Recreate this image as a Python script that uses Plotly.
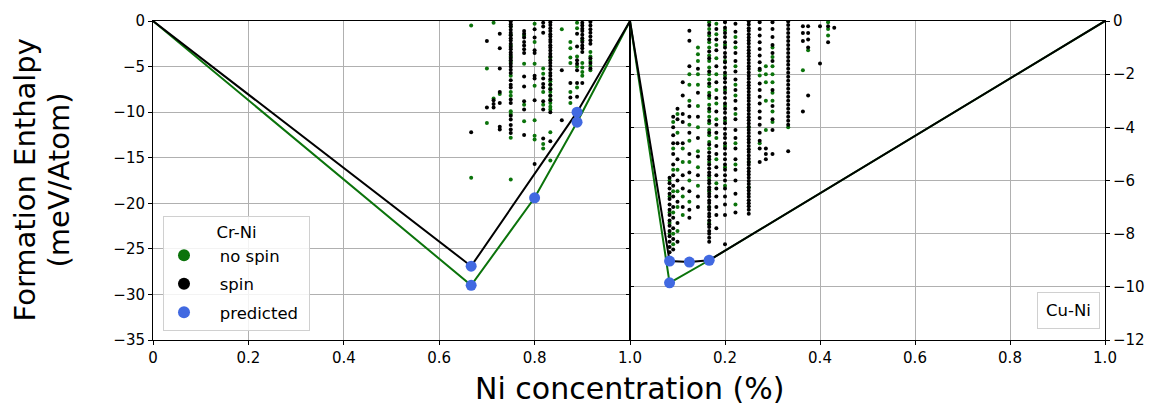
import plotly.graph_objects as go

# ---------------- DATA ----------------
# Cr-Ni panel (left axis, meV/atom); keys = Ni concentration
CRNI_NOSPIN = {
    0.667: [-0.5, -17.2],
    0.7: [-5.2, -11.2],
    0.714: [-0.2, -8.5],
    0.727: [-8.0],
    0.75: [-0.6, -1.5, -2.7, -3.9, -4.5, -6.0, -7.8, -8.2, -9.9, -10.2, -12.8, -17.4],
    0.778: [-1.6, -4.7, -9.2, -11.0],
    0.8: [-0.3, -2.3, -4.7, -7.1, -10.9, -12.6, -13.0],
    0.818: [-5.2, -5.8, -7.8, -9.2, -13.5, -14.0],
    0.833: [-4.0, -6.6, -7.0, -7.4, -7.8, -8.2, -8.6, -9.0, -9.4, -9.7, -12.2, -15.3],
    0.857: [-0.9],
    0.875: [-2.3, -3.0, -4.0, -4.6, -7.8, -9.0],
    0.889: [-0.2, -0.8, -3.9, -5.0, -7.3],
    0.9: [-2.1, -4.6, -5.1, -5.6, -6.0],
    0.917: [-3.4, -3.9, -4.4, -4.9, -5.4],
}
CRNI_SPIN = {
    0.667: [-12.2],
    0.7: [-2.2, -9.5],
    0.714: [-8.7, -9.1, -9.5],
    0.727: [-1.4, -3.0, -5.2, -7.8, -9.0, -11.6, -11.9],
    0.75: [-0.05, -0.35, -0.6, -0.95, -1.3, -1.55, -1.9, -2.15, -2.5, -2.85, -3.1, -3.45,
           -3.7, -4.05, -4.3, -4.7, -5.0, -5.35, -5.7, -6.5, -7.0, -7.3, -8.6, -9.0,
           -10.4, -10.8, -11.4, -11.9, -12.3],
    0.778: [-1.1, -1.4, -1.8, -2.3, -2.7, -3.1, -3.5, -6.1, -7.2, -8.8, -9.7, -12.5],
    0.8: [-0.9, -1.8, -3.2, -3.5, -6.0, -6.3, -8.7, -15.7],
    0.818: [-0.2, -0.6, -1.3, -6.3, -6.9, -7.3, -8.8, -9.7, -12.9],
    0.833: [-0.15, -0.45, -0.8, -1.1, -1.45, -1.7, -2.05, -2.3, -2.65, -2.9, -3.25, -3.6,
            -3.9, -4.3, -4.6, -4.95, -5.3, -5.7, -6.0, -6.4, -7.0, -7.5, -8.2, -8.7,
            -10.0, -13.2],
    0.857: [-5.4, -10.9],
    0.875: [-6.8, -8.4],
    0.889: [-1.4, -2.8, -4.3, -4.7, -5.4, -6.8, -8.3],
    0.9: [-0.2, -0.5, -0.85, -1.1, -1.5, -1.9, -2.3, -2.7, -3.0, -3.4, -6.8],
    0.917: [-0.1, -0.5, -0.9, -1.3, -1.7, -2.1, -2.5, -4.1, -4.6, -5.2],
}
CRNI_HULL_NOSPIN_X = [0, 0.667, 0.8, 0.889, 1.0]
CRNI_HULL_NOSPIN_Y = [0, -29.0, -19.4, -11.1, 0]
CRNI_HULL_SPIN_X = [0, 0.667, 0.889, 1.0]
CRNI_HULL_SPIN_Y = [0, -26.9, -10.0, 0]
CRNI_PRED_X = [0.667, 0.667, 0.8, 0.889, 0.889]
CRNI_PRED_Y = [-26.9, -29.0, -19.4, -10.0, -11.1]

# Cu-Ni panel (right axis)
CUNI_NOSPIN = {
    0.0833: [-6.0, -6.6, -7.2, -7.6, -8.0],
    0.0909: [-3.8, -4.8, -5.6, -6.4, -7.2, -8.0, -8.4],
    0.1: [-3.5, -4.2, -5.6, -6.4, -7.0, -7.9],
    0.111: [-4.8, -5.3, -6.6, -7.3],
    0.125: [-2.0, -2.4, -3.0, -3.9, -4.5, -5.3, -6.0, -6.8],
    0.143: [-1.0, -1.25, -1.5, -2.0, -2.4, -3.2, -4.0, -4.9, -5.5, -6.2],
    0.1667: [-0.05, -0.3, -0.55, -0.8, -1.0, -1.3, -1.5, -1.75, -2.0, -2.2, -2.45, -2.7,
             -2.9, -3.15, -3.4, -3.6, -3.85, -4.1, -4.3, -4.55, -4.8, -5.3, -5.9, -6.4,
             -7.0, -7.6],
    0.1818: [-0.1, -0.5, -0.9, -1.4, -2.0, -2.6, -3.1, -3.7, -4.4, -5.2, -6.1],
    0.2: [-0.35, -0.9, -1.5, -2.05, -2.6, -3.2, -3.75, -4.7, -5.5, -6.2],
    0.222: [-0.6, -1.0, -1.7, -2.4, -2.8, -3.5, -4.6, -5.4, -6.9],
    0.25: [-4.0, -5.3, -6.25],
    0.273: [-1.85, -2.05, -4.6],
    0.286: [-1.7, -2.0, -2.3, -3.0, -4.1],
    0.3: [-1.0, -1.35, -1.7, -2.0, -2.3, -2.7, -3.0, -3.4, -3.8],
    0.333: [-4.0],
    0.364: [-1.85],
    0.375: [-1.1],
    0.417: [-0.05, -0.3, -0.55],
}
CUNI_SPIN = {
    0.0833: [-5.9, -6.1, -6.3, -6.5, -6.7, -6.9, -7.1, -7.3, -7.5, -7.7, -7.9, -8.1,
             -8.3, -8.5, -8.7],
    0.0909: [-3.6, -4.0, -4.3, -4.6, -5.0, -5.4, -5.8, -6.2, -6.6, -7.0, -7.4, -7.8,
             -8.2, -8.6],
    0.1: [-3.3, -3.7, -4.6, -5.2, -6.0, -6.8, -7.6, -8.3],
    0.111: [-2.3, -2.8, -3.5, -3.8, -4.6, -5.8, -6.3, -7.0],
    0.125: [-0.37, -0.74, -1.7, -3.2, -3.6, -4.2, -5.0, -5.7, -6.4, -7.1, -7.4],
    0.143: [-1.8, -2.7, -3.6, -4.4, -5.1, -5.8, -6.6, -7.0],
    0.1667: [-0.15, -0.45, -0.7, -1.15, -1.4, -1.9, -2.35, -2.8, -3.3, -3.75, -4.2, -4.65,
             -4.95, -5.1, -5.2, -5.4, -5.55, -5.7, -5.8, -6.0, -6.1, -6.25, -6.35, -6.5,
             -6.6, -6.75, -6.85, -7.0, -7.1, -7.25, -7.35, -7.5, -7.65, -7.75, -7.9,
             -8.0, -8.15, -8.3],
    0.1818: [-0.3, -0.7, -1.1, -1.7, -2.3, -2.9, -3.4, -3.9, -4.2, -4.7, -5.0, -5.5,
             -5.8, -6.3, -6.6, -7.0, -7.3, -7.8],
    0.2: [-0.05, -0.25, -0.45, -0.6, -0.8, -1.0, -1.2, -1.35, -1.55, -1.75, -1.95, -2.15,
          -2.3, -2.5, -2.7, -2.9, -3.1, -3.3, -3.45, -3.65, -3.85, -4.05, -4.25, -4.4,
          -4.6, -4.8, -5.0, -5.2, -5.4, -5.6, -5.8, -6.0, -6.3, -6.6, -6.9, -7.3, -8.4],
    0.222: [-0.1, -0.4, -0.8, -1.2, -1.5, -1.9, -2.2, -2.6, -3.0, -3.3, -3.7, -4.1,
            -4.4, -4.8, -5.2, -5.6, -6.0, -6.5, -7.2],
    0.25: [-0.02, -0.13, -0.27, -0.37, -0.5, -0.62, -0.73, -0.85, -0.98, -1.1, -1.21,
           -1.33, -1.46, -1.58, -1.7, -1.81, -1.94, -2.06, -2.17, -2.3, -2.42, -2.53,
           -2.66, -2.78, -2.9, -3.01, -3.14, -3.26, -3.37, -3.5, -3.62, -3.73, -3.86,
           -3.98, -4.1, -4.21, -4.34, -4.46, -4.57, -4.7, -4.82, -4.93, -5.06, -5.18,
           -5.3, -5.41, -5.54, -5.66, -5.77, -5.9, -6.02, -6.13, -6.26, -6.38, -6.5,
           -6.61, -6.74, -6.86, -6.97, -7.1, -7.25],
    0.273: [-0.05, -0.3, -0.55, -0.8, -1.05, -1.3, -1.55, -1.8, -2.35, -2.6, -2.85,
            -3.1, -3.4, -3.65, -3.9, -4.2, -4.5, -4.8, -5.3],
    0.286: [-4.8, -5.0, -5.2],
    0.3: [-0.05, -0.3, -0.6, -0.9, -1.2, -1.5, -2.6, -3.2, -3.7, -4.1, -5.0],
    0.333: [-0.02, -0.15, -0.3, -0.45, -0.6, -0.75, -0.9, -1.05, -1.2, -1.35, -1.5,
            -1.65, -1.8, -1.95, -2.1, -2.25, -2.4, -2.55, -2.7, -2.85, -3.0, -3.15,
            -3.3, -3.45, -3.6, -3.75, -3.9, -4.9],
    0.364: [-0.2, -0.45, -0.75, -3.4],
    0.375: [-0.2, -0.45, -0.7, -1.0, -2.8],
    0.4: [-0.2, -1.6],
    0.417: [-0.2, -0.8],
    0.43: [-0.25],
}
CUNI_HULL_NOSPIN_X = [0, 0.0833, 0.1667, 1.0]
CUNI_HULL_NOSPIN_Y = [0, -9.85, -9.0, 0]
CUNI_HULL_SPIN_X = [0, 0.0833, 0.125, 0.1667, 1.0]
CUNI_HULL_SPIN_Y = [0, -9.03, -9.07, -9.0, 0]
CUNI_PRED_X = [0.0833, 0.0833, 0.125, 0.1667]
CUNI_PRED_Y = [-9.03, -9.85, -9.07, -9.0]

LEFT_YTICKS = [0, -5, -10, -15, -20, -25, -30, -35]
RIGHT_YTICKS = [0, -2, -4, -6, -8, -10, -12]
XTICKS = [0, 0.2, 0.4, 0.6, 0.8, 1.0]
LEFT_XLABELS = ["0", "0.2", "0.4", "0.6", "0.8", "1.0"]
RIGHT_XLABELS = ["", "0.2", "0.4", "0.6", "0.8", "1.0"]

# ---------------- STYLE ----------------
GREEN = "#0b730b"
BLACK = "#000000"
BLUE = "#4169e1"
GRID = "#b0b0b0"
FONT = "DejaVu Sans"


def flatten(d):
    xs, ys = [], []
    for k, vals in d.items():
        xs += [k] * len(vals)
        ys += list(vals)
    return xs, ys


fig = go.Figure()


def add_panel(nospin, spin, hnx, hny, hsx, hsy, px, py, xa, ya):
    for d, c in ((nospin, GREEN), (spin, BLACK)):
        x, y = flatten(d)
        fig.add_trace(go.Scatter(x=x, y=y, mode="markers", xaxis=xa, yaxis=ya,
                                 marker=dict(size=4, color=c), showlegend=False,
                                 hoverinfo="skip"))
    fig.add_trace(go.Scatter(x=hnx, y=hny, mode="lines", xaxis=xa, yaxis=ya,
                             line=dict(color=GREEN, width=2), showlegend=False))
    fig.add_trace(go.Scatter(x=hsx, y=hsy, mode="lines", xaxis=xa, yaxis=ya,
                             line=dict(color=BLACK, width=2), showlegend=False))
    fig.add_trace(go.Scatter(x=px, y=py, mode="markers", xaxis=xa, yaxis=ya,
                             marker=dict(size=11, color=BLUE), showlegend=False))


add_panel(CRNI_NOSPIN, CRNI_SPIN, CRNI_HULL_NOSPIN_X, CRNI_HULL_NOSPIN_Y,
          CRNI_HULL_SPIN_X, CRNI_HULL_SPIN_Y, CRNI_PRED_X, CRNI_PRED_Y, "x", "y")
add_panel(CUNI_NOSPIN, CUNI_SPIN, CUNI_HULL_NOSPIN_X, CUNI_HULL_NOSPIN_Y,
          CUNI_HULL_SPIN_X, CUNI_HULL_SPIN_Y, CUNI_PRED_X, CUNI_PRED_Y, "x2", "y2")

# legend entries
NB = "\u00a0"
for i, (name, c) in enumerate((("no spin", GREEN), ("spin", BLACK), ("predicted", BLUE))):
    fig.add_trace(go.Scatter(x=[None], y=[None], mode="markers", name=NB * 3 + name + NB,
                             marker=dict(size=12, color=c), legendgroup=f"g{i}",
                             xaxis="x", yaxis="y"))

# invisible traces for inner tick axes
fig.add_trace(go.Scatter(x=[0.5], y=[-100], xaxis="x", yaxis="y3", mode="markers",
                         marker=dict(opacity=0), showlegend=False, hoverinfo="skip"))
fig.add_trace(go.Scatter(x=[0.5], y=[-100], xaxis="x2", yaxis="y4", mode="markers",
                         marker=dict(opacity=0), showlegend=False, hoverinfo="skip"))

split = 477 / 952
tickfont = dict(family=FONT, size=15, color="black")
common_x = dict(range=[0, 1], tickvals=XTICKS, ticks="outside", ticklen=4, tickcolor="black",
                showline=True, linecolor="black", linewidth=1, mirror=True,
                showgrid=True, gridcolor=GRID, gridwidth=1, zeroline=False, tickfont=tickfont)
common_y = dict(ticks="outside", ticklen=4, tickcolor="black", showline=True,
                linecolor="black", linewidth=1, mirror=True, showgrid=True, gridcolor=GRID,
                gridwidth=1, zeroline=False, tickfont=tickfont)

fig.update_layout(
    width=1158, height=408,
    margin=dict(l=153, r=53, t=17, b=68),
    paper_bgcolor="white", plot_bgcolor="white",
    font=dict(family=FONT, color="black"),
    xaxis=dict(domain=[0, split], anchor="y", ticktext=LEFT_XLABELS, **common_x),
    xaxis2=dict(domain=[split, 1], anchor="y2", ticktext=RIGHT_XLABELS, **common_x),
    yaxis=dict(range=[-35, 0], tickvals=LEFT_YTICKS, anchor="x", side="left", **common_y),
    yaxis2=dict(range=[-12, 0], tickvals=RIGHT_YTICKS, anchor="x2", side="right", **common_y),
    yaxis3=dict(range=[-35, 0], tickvals=LEFT_YTICKS, overlaying="y", anchor="x", side="right",
                ticks="inside", ticklen=4, tickcolor="black", showticklabels=False,
                showgrid=False, zeroline=False, showline=False),
    yaxis4=dict(range=[-12, 0], tickvals=RIGHT_YTICKS, overlaying="y2", anchor="x2", side="left",
                ticks="inside", ticklen=4, tickcolor="black", showticklabels=False,
                showgrid=False, zeroline=False, showline=False),
    showlegend=True,
    legend=dict(x=10 / 952, y=(340 - 214) / 323, xanchor="left", yanchor="top",
                title=dict(text="Cr-Ni", side="top center", font=dict(family=FONT, size=16.5)),
                font=dict(family=FONT, size=16.5, color="black"),
                bgcolor="rgba(255,255,255,0.85)", bordercolor="#d0d0d0", borderwidth=1,
                traceorder="grouped", tracegroupgap=4, itemsizing="trace"),
    annotations=[
        dict(text="Ni concentration (%)", xref="paper", yref="paper", x=0.501, y=-0.152,
             xanchor="center", yanchor="middle", showarrow=False,
             font=dict(family=FONT, size=30, color="black")),
        dict(text="Formation Enthalpy", xref="paper", yref="paper", x=(24 - 153) / 952, y=0.5,
             xanchor="center", yanchor="middle", textangle=-90, showarrow=False,
             font=dict(family=FONT, size=29, color="black")),
        dict(text="(meV/Atom)", xref="paper", yref="paper", x=(58 - 153) / 952, y=0.5,
             xanchor="center", yanchor="middle", textangle=-90, showarrow=False,
             font=dict(family=FONT, size=29, color="black")),
        dict(text="Cu-Ni", xref="paper", yref="paper", x=(1068 - 153) / 952,
             y=(340 - 310) / 323, xanchor="center", yanchor="middle", showarrow=False,
             font=dict(family=FONT, size=16.5, color="black"),
             bordercolor="#d0d0d0", borderwidth=1, borderpad=8, bgcolor="white"),
    ],
)

fig.write_html("out.html")
